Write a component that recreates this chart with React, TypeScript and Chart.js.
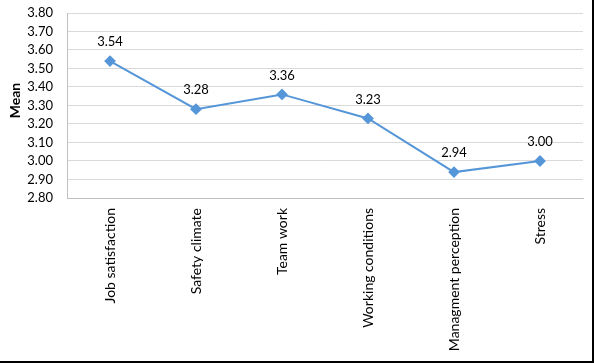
import React, { useEffect, useRef } from "react";
import { Chart, registerables } from "chart.js";

Chart.register(...registerables);

const categories = [
  "Job satisfaction",
  "Safety climate",
  "Team work",
  "Working conditions",
  "Managment perception",
  "Stress",
];
const meanValues = [3.54, 3.28, 3.36, 3.23, 2.94, 3.0];
const yMin = 2.8;
const yMax = 3.8;
const yStep = 0.1;
const yTitle = "Mean";

const FONT = "Lato, 'Noto Sans', sans-serif";

const valueLabels = {
  id: "valueLabels",
  afterDatasetsDraw(chart: any) {
    const ctx = chart.ctx;
    const meta = chart.getDatasetMeta(0);
    ctx.save();
    ctx.font = `13px ${FONT}`;
    ctx.fillStyle = "#000";
    ctx.textAlign = "center";
    ctx.textBaseline = "middle";
    meta.data.forEach((pt: any, i: number) => {
      ctx.fillText(meanValues[i].toFixed(2), pt.x, pt.y - 19);
    });
    ctx.restore();
  },
};

const yTitlePlugin = {
  id: "yTitlePlugin",
  afterDraw(chart: any) {
    const ctx = chart.ctx;
    const area = chart.chartArea;
    ctx.save();
    ctx.font = `bold 14px ${FONT}`;
    ctx.fillStyle = "#000";
    ctx.textAlign = "center";
    ctx.textBaseline = "middle";
    ctx.translate(15, (area.top + area.bottom) / 2 - 5);
    ctx.rotate(-Math.PI / 2);
    ctx.fillText(yTitle, 0, 0);
    ctx.restore();
  },
};

export default function App() {
  const ref = useRef<HTMLCanvasElement>(null);
  useEffect(() => {
    document.body.style.margin = "0";
    const chart = new Chart(ref.current!, {
      type: "line",
      data: {
        labels: categories,
        datasets: [
          {
            data: meanValues,
            borderColor: "#5596D8",
            backgroundColor: "#5596D8",
            borderWidth: 2,
            pointStyle: "rectRot",
            pointRadius: 4.5,
            pointBackgroundColor: "#5596D8",
            pointBorderColor: "#5596D8",
            tension: 0,
          },
        ],
      },
      options: {
        responsive: false,
        animation: false,
        layout: { padding: { top: 13, right: 9, bottom: 0, left: 0 } },
        plugins: { legend: { display: false }, tooltip: { enabled: false } },
        scales: {
          x: {
            offset: true,
            grid: { display: false, drawTicks: false },
            border: { display: true, color: "#BFBFBF", width: 1 },
            ticks: {
              minRotation: 90,
              maxRotation: 90,
              autoSkip: false,
              padding: 10,
              color: "#000",
              font: { family: FONT, size: 14 },
            },
            afterFit: (s: any) => {
              s.height = 163;
              s.paddingLeft = 0;
              s.paddingRight = 0;
            },
          },
          y: {
            min: yMin,
            max: yMax,
            grid: { color: "#D9D9D9", drawTicks: false, lineWidth: 1 },
            border: { display: true, color: "#BFBFBF", width: 1 },
            ticks: {
              stepSize: yStep,
              autoSkip: false,
              padding: 14,
              color: "#000",
              font: { family: FONT, size: 13 },
              callback: (v: any) => Number(v).toFixed(2),
            },
            afterFit: (s: any) => {
              s.width = 67;
              s.paddingTop = 0;
              s.paddingBottom = 0;
            },
          },
        },
      },
      plugins: [valueLabels, yTitlePlugin],
    });
    return () => chart.destroy();
  }, []);
  return (
    <div
      style={{
        position: "absolute",
        left: 0,
        top: 0,
        width: 594,
        height: 363,
        boxSizing: "border-box",
        borderRight: "2px solid #000",
        borderBottom: "2px solid #000",
        background: "#fff",
      }}
    >
      <canvas ref={ref} width={592} height={361} style={{ display: "block" }} />
    </div>
  );
}
